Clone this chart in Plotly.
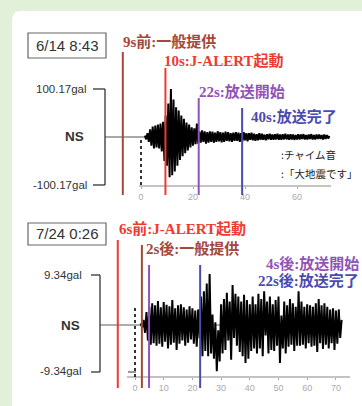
import plotly.graph_objects as go

W, H = 362, 406

# ---------------- data: panel 1 (6/14 8:43) ----------------
p1_title = "6/14 8:43"
p1_amp = 100.17
p1_amp_labels = ["100.17gal", "-100.17gal"]
p1_t0, p1_dt = 1.5, 0.5
p1_wave = [
    3, -5, 8, -10, 16, -18, 22, -24, 24, -22,
    26, -24, 28, -30, 32, -50, 45, -60, 70, -84,
    100, -80, 78, -72, 62, -60, 55, -48, 45, -40,
    38, -34, 30, -28, 26, -22, 20, -18, 18, -15,
    28, -14, 12, -12, 14, -10, 12, -14, 10, -12,
    12, -10, 11, -12, 9, -10, 12, -9, 10, -11,
    9, -10, 11, -8, 10, -9, 8, -10, 9, -8,
    10, -8, 9, -10, 8, -9, 10, -7, 8, -9,
    8, -6, 9, -7, 7, -8, 6, -7, 8, -6,
    7, -6, 5, -7, 6, -5, 7, -6, 5, -6,
    6, -5, 7, -6, 5, -6, 6, -5, 7, -5,
    5, -6, 6, -5, 5, -6, 4, -5, 6, -5,
    5, -4, 6, -5, 4, -5, 5, -4, 6, -5,
    4, -5, 5, -4, 5, -4, 4, -5, 5, -4,
    4, -3, 2,
]
p1_event_times = [-7.0, 9.4, 22.2, 38.9]
p1_event_labels = ["9s前:一般提供", "10s:J-ALERT起動", "22s:放送開始", "40s:放送完了"]
p1_ticks = [0, 20, 40, 60]
p1_notes = [":チャイム音", ":「大地震です」"]

# ---------------- data: panel 2 (7/24 0:26) ----------------
p2_title = "7/24 0:26"
p2_amp = 9.34
p2_amp_labels = ["9.34gal", "-9.34gal"]
p2_t0, p2_dt = 2.0, 0.5
p2_wave = [
    0.3, -0.5, 1.0, -1.5, 2.5, -3.0, 3.5, -3.8, 4.2, -3.5,
    3.8, -4.0, 4.6, -3.6, 3.4, -4.2, 4.4, -3.2, 3.9, -4.5,
    3.6, -3.8, 4.8, -3.4, 3.2, -4.8, 3.8, -3.6, 4.0, -3.0,
    3.4, -4.0, 3.0, -3.4, 3.6, -2.8, 3.2, -3.6, 2.8, -4.2,
    3.0, -2.6, 5.5, -6.0, 6.5, -5.0, 8.0, -6.0, 9.8, -5.5,
    2.0, -6.5, 0.5, -8.9, -1.0, -7.0, 4.0, -5.5, 5.0, -4.8,
    6.2, -3.0, 4.5, -6.7, 7.7, -2.5, 6.0, -4.0, 5.5, -5.2,
    4.5, -6.0, 5.8, -7.3, 4.8, -6.5, 4.0, -5.0, 5.5, -4.5,
    4.0, -5.5, 6.0, -4.5, 5.0, -6.0, 6.5, -2.0, 4.5, -5.5,
    5.5, -4.8, 4.0, -5.0, 4.8, -4.0, 5.5, -7.3, 1.8, -4.5,
    4.5, -5.5, 3.8, -4.2, 5.0, -3.8, 4.2, -5.0, 3.5, -4.0,
    6.5, -4.0, 4.5, -3.8, 3.5, -4.5, 4.0, -3.5, 3.8, -4.2,
    3.5, -4.0, 4.2, -5.2, 5.0, -3.5, 3.8, -4.6, 4.2, -3.8,
    3.5, -4.5, 3.0, -3.5, 3.2, -4.8, 2.8, -3.6, 3.0, -2.5,
    1.0,
]
p2_event_times = [-6.0, 2.4, 4.9, 22.7]
p2_event_labels = ["6s前:J-ALERT起動", "2s後:一般提供", "4s後:放送開始", "22s後:放送完了"]
p2_ticks = [0, 10, 20, 30, 40, 50, 60, 70]

# ---------------- styles / layout constants ----------------
BROWN, RED, PURPLE, BLUE = "#a3483b", "#ef3a2f", "#9153b6", "#4a4bae"
GREEN_BG = "#e3f0d9"
SERIF = "Liberation Serif, Noto Sans CJK JP, serif"
SANS = "Liberation Sans, Arial, Noto Sans CJK JP, sans-serif"
CJK = "Noto Sans CJK JP, sans-serif"

# pixel mapping of each panel: x0 pixel of t=0, px per second, baseline pixel, px per amp
P1 = dict(x0=141, sx=2.6, yb=137, amp_px=48)
P2 = dict(x0=135, sx=2.87, yb=325, amp_px=48.5)


def xr(P):
    return [(0 - P["x0"]) / P["sx"], (W - P["x0"]) / P["sx"]]


def yr(P, amp):
    k = P["amp_px"] / amp
    return [(P["yb"] - H) / k, P["yb"] / k]


def t_of(P, px):
    return (px - P["x0"]) / P["sx"]


def fx(px):
    return px / W


def fy(py):
    return 1 - py / H


fig = go.Figure()

t1 = [p1_t0 + i * p1_dt for i in range(len(p1_wave))]
t2 = [p2_t0 + i * p2_dt for i in range(len(p2_wave))]

# baselines
fig.add_trace(go.Scatter(x=[t_of(P1, 105), p1_t0], y=[0, 0], mode="lines",
                         line=dict(color="#555", width=1), xaxis="x", yaxis="y", hoverinfo="skip"))
fig.add_trace(go.Scatter(x=[t_of(P2, 100), t2[-1]], y=[0, 0], mode="lines",
                         line=dict(color="#333", width=0.8), xaxis="x2", yaxis="y2", hoverinfo="skip"))

# waveforms
fig.add_trace(go.Scatter(x=t1, y=p1_wave, mode="lines", line=dict(color="black", width=2, simplify=False),
                         xaxis="x", yaxis="y", hoverinfo="skip"))
fig.add_trace(go.Scatter(x=t2, y=p2_wave, mode="lines", line=dict(color="black", width=2, simplify=False),
                         xaxis="x2", yaxis="y2", hoverinfo="skip"))

shapes = []
# white panel with rounded top-left corner
x_l, y_t = fx(12), fy(11)
r_x, r_y = 9 / W, 9 / H
shapes.append(dict(type="path", xref="paper", yref="paper", layer="below",
                   path=f"M {x_l},0 L {x_l},{y_t - r_y} Q {x_l},{y_t} {x_l + r_x},{y_t} L 1.01,{y_t} L 1.01,0 Z",
                   fillcolor="white", line=dict(width=0)))

# date boxes
for (y0, y1) in [(33, 58), (223, 245)]:
    shapes.append(dict(type="rect", xref="paper", yref="paper", x0=fx(28), x1=fx(106),
                       y0=fy(y1), y1=fy(y0), line=dict(color="#666", width=1.2), fillcolor="white"))

# brackets
for (xb, ytop, ybot, xl) in [(105, 89, 185, 93), (100, 275, 372, 91)]:
    shapes.append(dict(type="line", xref="paper", yref="paper", x0=fx(xb), x1=fx(xb),
                       y0=fy(ytop), y1=fy(ybot), line=dict(color="#333", width=1.3)))
    for yy in (ytop, ybot):
        shapes.append(dict(type="line", xref="paper", yref="paper", x0=fx(xl), x1=fx(xb),
                           y0=fy(yy), y1=fy(yy), line=dict(color="#333", width=1.3)))

# x-axis lines
shapes.append(dict(type="line", xref="x", yref="paper", x0=t_of(P1, 139), x1=t_of(P1, 331),
                   y0=fy(186), y1=fy(186), line=dict(color="#888", width=1.2)))
shapes.append(dict(type="line", xref="x2", yref="paper", x0=t_of(P2, 127), x1=t_of(P2, 350),
                   y0=fy(377), y1=fy(377), line=dict(color="#888", width=1.2)))
shapes.append(dict(type="line", xref="x2", yref="paper", x0=t_of(P2, 128), x1=t_of(P2, 136),
                   y0=fy(372), y1=fy(372), line=dict(color="#333", width=1)))

# dotted onset lines
shapes.append(dict(type="line", xref="x", yref="paper", x0=0, x1=0, y0=fy(140), y1=fy(186),
                   line=dict(color="black", width=1.6, dash="dot")))
shapes.append(dict(type="line", xref="x2", yref="paper", x0=0, x1=0, y0=fy(308), y1=fy(377),
                   line=dict(color="black", width=1.6, dash="dot")))

# event lines
p1_cols = [BROWN, RED, PURPLE, BLUE]
p1_tops = [52, 68, 98, 108]
for t, c, top in zip(p1_event_times, p1_cols, p1_tops):
    shapes.append(dict(type="line", xref="x", yref="paper", x0=t, x1=t, y0=fy(top), y1=fy(195),
                       line=dict(color=c, width=2)))
p2_cols = [RED, BROWN, PURPLE, BLUE]
p2_tops = [240, 245, 265, 265]
for t, c, top in zip(p2_event_times, p2_cols, p2_tops):
    shapes.append(dict(type="line", xref="x2", yref="paper", x0=t, x1=t, y0=fy(top), y1=fy(388),
                       line=dict(color=c, width=2)))

ann = []


def text(px, py, s, font, anchor="left", **kw):
    ann.append(dict(xref="paper", yref="paper", x=fx(px), y=fy(py), text=s, showarrow=False,
                    xanchor=anchor, yanchor="middle", font=font, **kw))


text(67, 46, p1_title, dict(family=SANS, size=15, color="#333"), anchor="center")
text(67, 234, p2_title, dict(family=SANS, size=15, color="#333"), anchor="center")

text(89, 89, p1_amp_labels[0], dict(family=SANS, size=11.5, color="#333"), anchor="right")
text(89, 185, p1_amp_labels[1], dict(family=SANS, size=11.5, color="#333"), anchor="right")
text(74, 136, "<b>NS</b>", dict(family=SANS, size=13.5, color="#333"), anchor="center")
text(84, 275, p2_amp_labels[0], dict(family=SANS, size=11.5, color="#333"), anchor="right")
text(84, 371, p2_amp_labels[1], dict(family=SANS, size=11.5, color="#333"), anchor="right")
text(70, 325, "<b>NS</b>", dict(family=SANS, size=13.5, color="#333"), anchor="center")

p1_lab_pos = [(121, 42, "left"), (162, 61, "left"), (197, 91, "left"), (249, 117, "left")]
for s, c, (px, py, a) in zip(p1_event_labels, p1_cols, p1_lab_pos):
    text(px, py, f"<b>{s}</b>", dict(family=SERIF, size=15, color=c), anchor=a)
p2_lab_pos = [(117, 228, "left"), (144, 248, "left"), (361, 263, "right"), (361, 280, "right")]
for s, c, (px, py, a) in zip(p2_event_labels, p2_cols, p2_lab_pos):
    text(px, py, f"<b>{s}</b>", dict(family=SERIF, size=15, color=c), anchor=a)

text(279, 155, p1_notes[0], dict(family=CJK, size=10.5, color="#222"))
text(279, 173, p1_notes[1], dict(family=CJK, size=10.5, color="#222"))

tickfont = dict(family=SANS, size=9, color="#aaa")
fig.update_layout(
    width=W, height=H, margin=dict(l=0, r=0, t=0, b=0),
    paper_bgcolor=GREEN_BG, plot_bgcolor="rgba(0,0,0,0)", showlegend=False,
    shapes=shapes, annotations=ann,
    xaxis=dict(domain=[0, 1], range=xr(P1), anchor="free", position=fy(186),
               tickvals=p1_ticks, ticks="outside", ticklen=2, tickcolor="#aaa", tickfont=tickfont,
               showgrid=False, zeroline=False, showline=False, fixedrange=True),
    yaxis=dict(domain=[0, 1], range=yr(P1, p1_amp), visible=False, fixedrange=True),
    xaxis2=dict(domain=[0, 1], range=xr(P2), anchor="free", position=fy(377), overlaying="x",
                tickvals=p2_ticks, ticks="outside", ticklen=2, tickcolor="#aaa", tickfont=tickfont,
                showgrid=False, zeroline=False, showline=False, fixedrange=True),
    yaxis2=dict(domain=[0, 1], range=yr(P2, p2_amp), visible=False, overlaying="y",
                anchor="x2", fixedrange=True),
)

fig.write_html(
    "out.html",
    config={"displayModeBar": False},
    post_script="document.body.style.margin='0';document.body.style.overflow='hidden';"
                "document.body.style.background='" + GREEN_BG + "';",
)
